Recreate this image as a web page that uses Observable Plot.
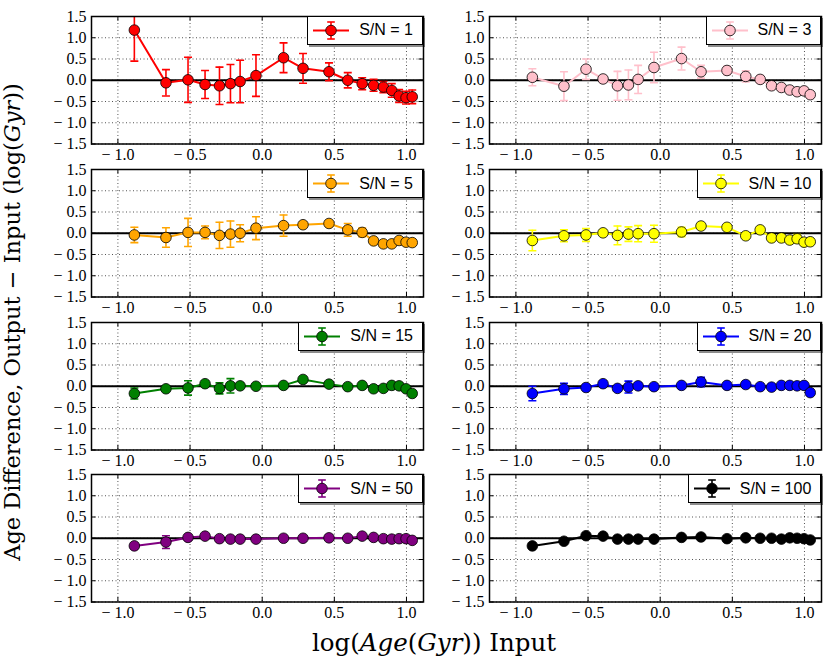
<!DOCTYPE html>
<html>
<head>
<meta charset="utf-8">
<script src="https://cdn.jsdelivr.net/npm/d3@7"></script>
<script src="https://cdn.jsdelivr.net/npm/@observablehq/plot@0.6"></script>
<style>
  body { margin: 0; background: white; }
  #fig { position: relative; width: 830px; height: 672px; overflow: hidden; background: white; }
  .panel { position: absolute; }
  .panel svg text { font-family: "Liberation Serif", serif !important; font-size: 16px !important; fill: black; }
  .leg { position: absolute; box-sizing: border-box; height: 29px; border: 1px solid black; background: white;
         box-shadow: 2px 2px 0 rgba(0,0,0,0.45); display: flex; align-items: center; padding-right: 9px;
         font-family: "Liberation Sans", Arial, sans-serif; font-size: 16px; line-height: 1; }
  .leg svg { display: block; }
  #labels { position: absolute; left: 0; top: 0; }
</style>
</head>
<body>
<div id="fig"></div>
<script>
// ---- data ----
const ageInput = [-0.886, -0.667, -0.514, -0.396, -0.296, -0.220, -0.153, -0.043, 0.148, 0.283,
                  0.463, 0.593, 0.693, 0.772, 0.840, 0.898, 0.949, 0.997, 1.040];

const sn1Y = [1.18, -0.06, 0.01, -0.10, -0.13, -0.08, -0.03, 0.11, 0.53, 0.28, 0.20, 0.00, -0.08, -0.12, -0.16, -0.24, -0.37, -0.41, -0.39];
const sn1E = [0.73, 0.31, 0.53, 0.33, 0.44, 0.45, 0.50, 0.49, 0.35, 0.35, 0.21, 0.18, 0.14, 0.14, 0.13, 0.16, 0.15, 0.15, 0.16];

const sn3Y = [0.07, -0.14, 0.26, 0.03, -0.13, -0.11, 0.02, 0.30, 0.51, 0.20, 0.23, 0.09, 0.02, -0.13, -0.17, -0.23, -0.27, -0.25, -0.34];
const sn3E = [0.20, 0.34, 0.24, 0.08, 0.34, 0.35, 0.33, 0.36, 0.27, 0.15, 0.10, 0.13, 0.09, 0.08, 0.07, 0.07, 0.07, 0.08, 0.07];

const sn5Y = [-0.04, -0.10, 0.02, 0.02, -0.05, -0.02, 0.00, 0.12, 0.18, 0.20, 0.23, 0.08, 0.02, -0.18, -0.25, -0.25, -0.17, -0.21, -0.22];
const sn5E = [0.18, 0.23, 0.33, 0.15, 0.31, 0.31, 0.20, 0.27, 0.25, 0.06, 0.06, 0.15, 0.10, 0.05, 0.05, 0.05, 0.05, 0.05, 0.05];

const sn10Y = [-0.17, -0.06, -0.04, 0.01, -0.05, -0.02, -0.01, -0.01, 0.03, 0.17, 0.14, -0.06, 0.08, -0.11, -0.11, -0.16, -0.13, -0.21, -0.20];
const sn10E = [0.24, 0.14, 0.15, 0.05, 0.22, 0.17, 0.19, 0.20, 0.11, 0.05, 0.05, 0.05, 0.05, 0.05, 0.05, 0.05, 0.10, 0.05, 0.05];

const sn15Y = [-0.17, -0.06, -0.04, 0.06, -0.05, 0.01, 0.01, 0.00, 0.02, 0.16, 0.05, -0.01, 0.02, -0.06, -0.05, 0.02, 0.01, -0.06, -0.17];
const sn15E = [0.13, 0.05, 0.17, 0.04, 0.13, 0.17, 0.04, 0.04, 0.04, 0.04, 0.04, 0.04, 0.04, 0.04, 0.04, 0.04, 0.04, 0.04, 0.04];

const sn20Y = [-0.17, -0.06, -0.03, 0.06, -0.05, -0.02, 0.01, -0.01, 0.02, 0.10, 0.02, 0.04, -0.01, -0.02, 0.02, 0.02, 0.01, 0.02, -0.15];
const sn20E = [0.17, 0.13, 0.04, 0.04, 0.04, 0.14, 0.04, 0.04, 0.04, 0.11, 0.04, 0.04, 0.04, 0.04, 0.04, 0.04, 0.04, 0.04, 0.04];

const sn50Y = [-0.18, -0.09, 0.02, 0.05, -0.01, -0.02, -0.02, -0.02, 0.00, 0.00, 0.01, 0.00, 0.05, 0.02, -0.01, -0.02, -0.01, -0.01, -0.05];
const sn50E = [0.06, 0.15, 0.02, 0.02, 0.02, 0.02, 0.02, 0.02, 0.02, 0.02, 0.02, 0.02, 0.02, 0.02, 0.02, 0.02, 0.02, 0.02, 0.02];

const sn100Y = [-0.18, -0.07, 0.06, 0.05, -0.02, -0.02, -0.02, -0.02, 0.02, 0.03, -0.01, 0.01, 0.00, 0.00, -0.02, 0.01, 0.00, -0.01, -0.04];
const sn100E = [0.02, 0.02, 0.02, 0.02, 0.02, 0.02, 0.02, 0.02, 0.02, 0.02, 0.02, 0.02, 0.02, 0.02, 0.02, 0.02, 0.02, 0.02, 0.02];

const seriesLabels = ["S/N = 1", "S/N = 3", "S/N = 5", "S/N = 10", "S/N = 15", "S/N = 20", "S/N = 50", "S/N = 100"];
const seriesColors = ["#ff0000", "#ffc0cb", "#ffa500", "#ffff00", "#008000", "#0000ff", "#800080", "#000000"];
const seriesY = [sn1Y, sn3Y, sn5Y, sn10Y, sn15Y, sn20Y, sn50Y, sn100Y];
const seriesE = [sn1E, sn3E, sn5E, sn10E, sn15E, sn20E, sn50E, sn100E];

const xTicks = [-1.0, -0.5, 0.0, 0.5, 1.0];
const yTicks = [-1.5, -1.0, -0.5, 0.0, 0.5, 1.0, 1.5];
const xDomain = [-1.183, 1.118];
const yDomain = [-1.5, 1.5];

// ---- layout ----
const colLeft = [91, 489.3];
const rowTop = [15.7, 169, 321.7, 474];
const frameW = 332, frameH = 127.5;
const ML = 50, MR = 6, MT = 4, MB = 26;
const tickLen = 4.5;

const fmt = d => (d < 0 ? "\u2212 " : "") + Math.abs(d).toFixed(1);
const capSymbol = { draw(ctx, size) { const r = Math.sqrt(size / Math.PI); ctx.moveTo(-r, 0); ctx.lineTo(r, 0); } };
const tickFont = { fontFamily: "'Liberation Serif', serif", fontSize: 16, fill: "black" };

const fig = document.getElementById("fig");

seriesLabels.forEach((label, i) => {
  const color = seriesColors[i];
  const data = ageInput.map((x, j) => ({ x, y: seriesY[i][j], e: seriesE[i][j] }));
  const col = i % 2, row = Math.floor(i / 2);
  const chart = Plot.plot({
    width: frameW + ML + MR,
    height: frameH + MT + MB,
    marginLeft: ML, marginRight: MR, marginTop: MT, marginBottom: MB,
    style: { background: "transparent", overflow: "visible" },
    x: { domain: xDomain, label: null },
    y: { domain: yDomain, label: null },
    marks: [
      Plot.gridX(xTicks, { stroke: "black", strokeOpacity: 0.85, strokeWidth: 0.8, strokeDasharray: "1,2.5" }),
      Plot.gridY(yTicks, { stroke: "black", strokeOpacity: 0.85, strokeWidth: 0.8, strokeDasharray: "1,2.5" }),
      // inward tick marks on all four sides
      Plot.tickX(xTicks, { x: d => d, stroke: "black", strokeWidth: 1, insetTop: frameH - tickLen }),
      Plot.tickX(xTicks, { x: d => d, stroke: "black", strokeWidth: 1, insetBottom: frameH - tickLen }),
      Plot.tickY(yTicks, { y: d => d, stroke: "black", strokeWidth: 1, insetRight: frameW - tickLen }),
      Plot.tickY(yTicks, { y: d => d, stroke: "black", strokeWidth: 1, insetLeft: frameW - tickLen }),
      Plot.axisX(xTicks, { tickFormat: fmt, tickSize: 0, tickPadding: 5, label: null, ...tickFont }),
      Plot.axisY(yTicks, { tickFormat: fmt, tickSize: 0, tickPadding: 5, label: null, ...tickFont }),
      Plot.ruleY([0], { stroke: "black", strokeWidth: 2.2 }),
      Plot.line(data, { x: "x", y: "y", stroke: color, strokeWidth: 2, clip: true }),
      Plot.ruleX(data, { x: "x", y1: d => d.y - d.e, y2: d => d.y + d.e, stroke: color, strokeWidth: 1.6, clip: true }),
      Plot.dot(data, { x: "x", y: d => d.y + d.e, symbol: capSymbol, r: 4, stroke: color, strokeWidth: 1.6, fill: "none", clip: true }),
      Plot.dot(data, { x: "x", y: d => d.y - d.e, symbol: capSymbol, r: 4, stroke: color, strokeWidth: 1.6, fill: "none", clip: true }),
      Plot.dot(data, { x: "x", y: "y", r: 5.3, fill: color, stroke: "black", strokeWidth: 0.8 }),
      Plot.frame({ stroke: "black", strokeWidth: 1.5 })
    ]
  });
  const wrap = document.createElement("div");
  wrap.className = "panel";
  wrap.style.left = (colLeft[col] - ML) + "px";
  wrap.style.top = (rowTop[row] - MT) + "px";
  wrap.appendChild(chart);
  fig.appendChild(wrap);

  // legend
  const leg = document.createElement("div");
  leg.className = "leg";
  leg.style.right = (830 - (colLeft[col] + frameW)) + "px";
  leg.style.top = rowTop[row] + "px";
  leg.innerHTML =
    `<svg width="51" height="27">
       <line x1="5" x2="41" y1="13.5" y2="13.5" stroke="${color}" stroke-width="2"/>
       <line x1="23" x2="23" y1="5" y2="22" stroke="${color}" stroke-width="1.6"/>
       <line x1="19.2" x2="26.8" y1="5" y2="5" stroke="${color}" stroke-width="1.6"/>
       <line x1="19.2" x2="26.8" y1="22" y2="22" stroke="${color}" stroke-width="1.6"/>
       <circle cx="23" cy="13.5" r="5.3" fill="${color}" stroke="black" stroke-width="0.8"/>
     </svg><span>${label}</span>`;
  fig.appendChild(leg);
});

// axis titles
const ns = "http://www.w3.org/2000/svg";
const lab = document.createElementNS(ns, "svg");
lab.setAttribute("id", "labels");
lab.setAttribute("width", 830);
lab.setAttribute("height", 672);
lab.innerHTML =
  `<text x="434" y="651" text-anchor="middle" font-family="'DejaVu Serif', serif" font-size="24.5">log(<tspan font-style="italic">Age</tspan>(<tspan font-style="italic">Gyr</tspan>)) Input</text>
   <text transform="translate(20,322) rotate(-90)" text-anchor="middle" font-family="'DejaVu Serif', serif" font-size="22.5">Age Difference, Output \u2212 Input (log(<tspan font-style="italic">Gyr</tspan>))</text>`;
fig.appendChild(lab);
</script>
</body>
</html>
